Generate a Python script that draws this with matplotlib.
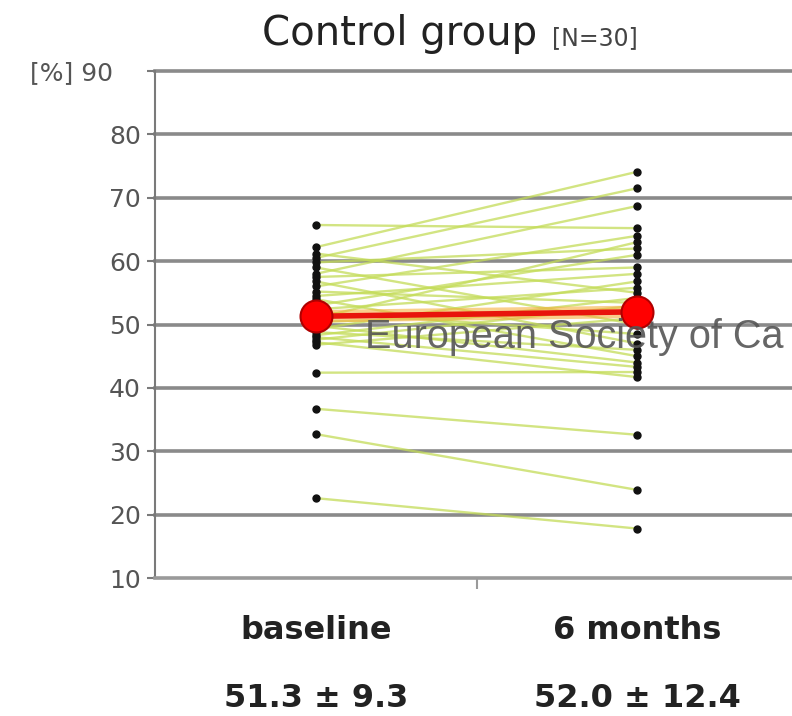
import matplotlib
matplotlib.use("Agg")
import matplotlib.pyplot as plt
from matplotlib.transforms import ScaledTranslation

# ---- data ----
categories = ["baseline", "6 months"]
baseline = [65.7, 62.2, 61.2, 60.5, 59.8, 59.0, 58.0, 57.5, 56.8, 56.0,
            55.2, 54.5, 54.0, 53.0, 52.4, 52.0, 51.0, 50.4, 49.8, 49.3,
            48.8, 48.3, 48.0, 47.6, 47.2, 46.8, 42.4, 36.7, 32.7, 22.6]
six_months = [65.2, 74.1, 55.0, 71.5, 62.0, 50.0, 68.7, 59.0, 47.0, 64.0,
              53.4, 58.0, 45.0, 61.0, 55.8, 48.5, 63.0, 52.0, 44.0, 56.8,
              46.0, 54.2, 43.3, 53.0, 41.7, 51.0, 42.5, 32.6, 23.9, 17.8]
mean_values = [51.3, 52.0]
sd_values = [9.3, 12.4]
y_ticks = [10, 20, 30, 40, 50, 60, 70, 80, 90]
y_tick_labels = ["10", "20", "30", "40", "50", "60", "70", "80", "[%] 90"]
title_main = "Control group"
title_n = "[N=30]"
watermark = "European Society of Ca"

W, H = 792, 716
fig = plt.figure(figsize=(W / 100, H / 100), dpi=100)
fig.patch.set_facecolor("white")
ax = fig.add_axes([155 / W, 1 - 578 / H, (798 - 155) / W, (578 - 71) / H])
ax.set_xlim(-0.5, 1.5)
ax.set_ylim(10, 90)

# grid lines
for v in y_ticks[1:]:
    ax.axhline(v, color="#8a8a8a", lw=2.6, zorder=1, clip_on=False)

# individual subjects
xs = [0, 1]
for b, s in zip(baseline, six_months):
    ax.plot(xs, [b, s], color="#c4dc58", lw=1.7, alpha=0.75, zorder=2,
            solid_capstyle="butt")
ax.plot([0] * len(baseline), baseline, "o", color="#111", ms=5, zorder=3)
ax.plot([1] * len(six_months), six_months, "o", color="#111", ms=5, zorder=3)

# mean line
ax.plot(xs, mean_values, color="#f5b040", lw=9, alpha=0.6, zorder=4,
        solid_capstyle="butt")
ax.plot(xs, mean_values, color="#e8140c", lw=4, zorder=5)
ax.plot(xs, mean_values, "o", color="#ff0000", mec="#b00000", mew=1.5,
        ms=23, zorder=6)

# spines and ticks
for side in ["top", "right"]:
    ax.spines[side].set_visible(False)
ax.spines["left"].set_color("#7a7a7a")
ax.spines["left"].set_linewidth(1.5)
ax.spines["bottom"].set_color("#9a9a9a")
ax.spines["bottom"].set_linewidth(2.6)
ax.set_yticks(y_ticks)
ax.set_yticklabels(y_tick_labels, fontsize=18, color="#555555")
ax.tick_params(axis="y", length=6, width=1.5, color="#7a7a7a", pad=4)
top_lbl = ax.get_yticklabels()[-1]
top_lbl.set_transform(top_lbl.get_transform() +
                      ScaledTranslation(-0.28, 0, fig.dpi_scale_trans))
ax.set_xticks([0.5])
ax.set_xticklabels([""])
ax.tick_params(axis="x", length=8, width=1.5, color="#9a9a9a")

# category labels and stats
for i, cat in enumerate(categories):
    ax.text(xs[i], -0.104, cat, transform=ax.get_xaxis_transform(),
            ha="center", va="center", fontsize=23, fontweight="bold",
            color="#222222")
    ax.text(xs[i], -0.238, f"{mean_values[i]:.1f} ± {sd_values[i]:.1f}",
            transform=ax.get_xaxis_transform(), ha="center", va="center",
            fontsize=23, fontweight="bold", color="#222222")

# title
fig.text(262 / W, 1 - 45 / H, title_main, fontsize=29, color="#222222",
         ha="left", va="baseline")
fig.text(552 / W, 1 - 45 / H, title_n, fontsize=17, color="#444444",
         ha="left", va="baseline")

# watermark
fig.text(365 / W, 1 - 348 / H, watermark, fontsize=28.5, color="#555555",
         family="Liberation Sans", ha="left", va="baseline", zorder=10,
         alpha=0.9)

fig.savefig("out.png", dpi=100, facecolor="white")
